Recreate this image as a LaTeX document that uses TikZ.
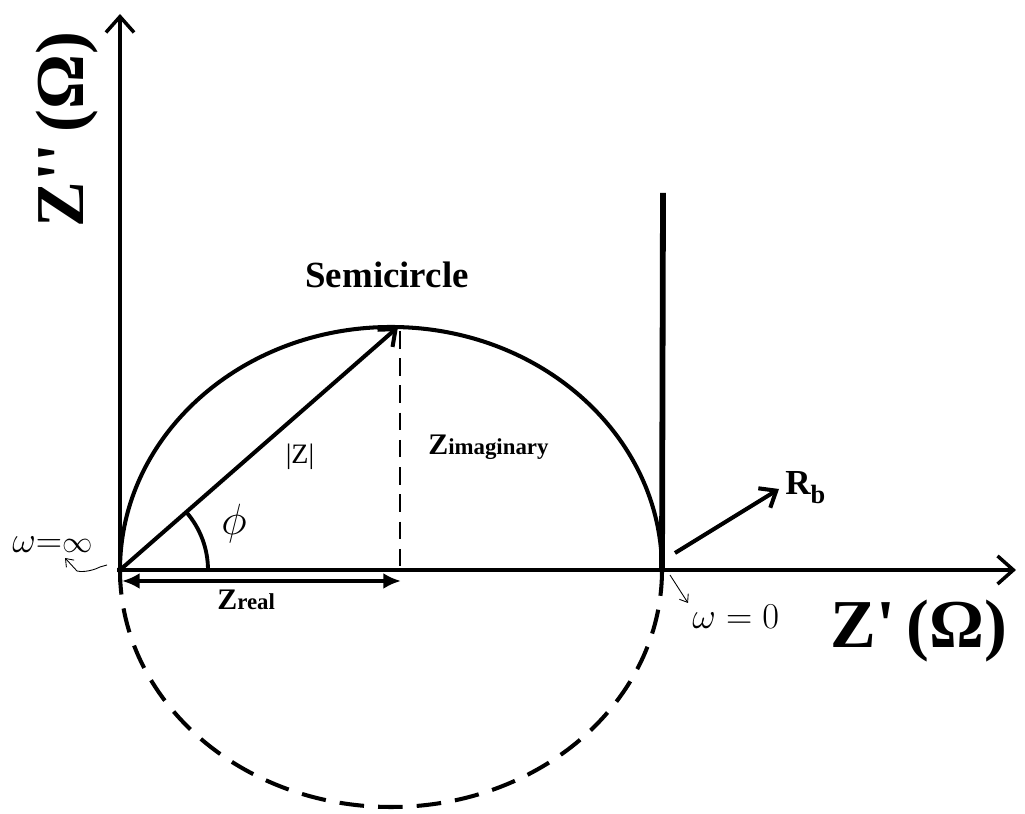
\documentclass[tikz,border=0pt]{standalone}
\usepackage{fontspec}
\setmainfont{Liberation Serif}
\usetikzlibrary{arrows.meta, positioning, calc}
\tikzstyle{axis}=[line width=2.5pt, -{Straight Barb[length=9pt,width=16pt,line width=2pt]}]
\tikzstyle{vector}=[line width=2.3pt, -{Straight Barb[length=8pt,width=13pt,line width=2.3pt]}]
\tikzstyle{span}=[line width=2.3pt, {Latex[length=10pt,width=9pt]}-{Latex[length=10pt,width=9pt]}]
\tikzstyle{pointer}=[line width=0.5pt, -{Straight Barb[length=4pt,width=6pt]}]
\tikzstyle{lbl}=[inner sep=0pt, font=\bfseries]
\newcommand{\bigsz}{\fontsize{39}{44}\selectfont\bfseries}
\newcommand{\zsz}{\fontsize{17}{20}\selectfont\bfseries}
\newcommand{\subsz}{\fontsize{13}{15}\selectfont\bfseries}

\begin{document}
\begin{tikzpicture}[x=0.02cm, y=0.02cm]
  \useasboundingbox (0,0) rectangle (1025,814);

  % Axes
  \coordinate (O) at (120,244);
  \coordinate (obot) at (120,232);
  \coordinate (ytop) at (120,800);
  \coordinate (xleft) at (117,244);
  \coordinate (xend) at (1016,244);
  \draw[axis] (obot) -- (ytop);
  \draw[axis] (xleft) -- (xend);

  % Semicircle and its dashed mirror
  \draw[line width=2.3pt] (O) arc[start angle=180, end angle=0, x radius=271, y radius=243];
  \draw[line width=2.3pt, dash pattern=on 14pt off 8pt]
    (O) arc[start angle=180, end angle=360, x radius=271, y radius=237];
  \coordinate (top) at (398,487);
  \coordinate (foot) at (400,244);
  \coordinate (Rb) at (662,244);
  \coordinate (wall) at (663,621);
  \draw[line width=3.3pt] (Rb) -- (wall);

  % |Z|, angle and parts
  \draw[vector] (O) -- (top);
  \draw[line width=1.3pt, dash pattern=on 10pt off 5.5pt] ($(top)+(2,-4)$) -- (foot);
  \draw[line width=2.2pt] ($(O)+(88,0)$) arc[start angle=0, end angle=41, radius=88];
  \coordinate (ra) at (122,233);
  \coordinate (rb) at (401,233);
  \draw[span] (ra) -- (rb);

  % R_b pointer
  \coordinate (rbs) at (675,261);
  \coordinate (rbe) at (779,325);
  \draw[vector] (rbs) -- (rbe);

  % frequency pointers
  \coordinate (infs) at (107,249);
  \coordinate (infe) at (65,256);
  \draw[pointer] (infs) -- (100,247) .. controls (90,242) and (80,242) .. (77,243) -- (infe);
  \coordinate (zs) at (670,239);
  \coordinate (ze) at (688,211);
  \draw[pointer] (zs) -- (ze);

  % Labels
  \node[lbl, anchor=base west] (xlab) at (830,166) {\bigsz Z\textquotesingle\,(Ω)};
  \node[lbl, anchor=base west, rotate=90] (ylab) at (83,586) {\bigsz Z\textquotesingle\textquotesingle\,(Ω)};
  \node[lbl, anchor=base, font=\fontsize{21}{24}\selectfont\bfseries] (semi) at (387,526) {Semicircle};
  \node[inner sep=0pt, font=\fontsize{16}{18}\selectfont] (mod) at (300,357) {|Z|};
  \node[inner sep=0pt, font=\fontsize{26}{30}\selectfont] (phi) at (234,290) {$\phi$};
  \node[lbl, anchor=base west] (zim) at (428,359) {\zsz Z\subsz imaginary};
  \node[lbl, anchor=base west] (zre) at (217,204) {\zsz Z\subsz real};
  \node[lbl, anchor=base west] (rblab) at (785,319) {\fontsize{20}{24}\selectfont R\raisebox{-5pt}{\fontsize{15}{17}\selectfont b}};
  \node[inner sep=0pt, anchor=base west, font=\fontsize{21}{24}\selectfont] (winf) at (12,261) {$\omega{=}$\fontsize{16}{18}\selectfont$\infty$};
  \node[inner sep=0pt, anchor=base west, font=\fontsize{21}{24}\selectfont] (wzero) at (692,185) {$\omega = 0$};
\end{tikzpicture}
\end{document}
